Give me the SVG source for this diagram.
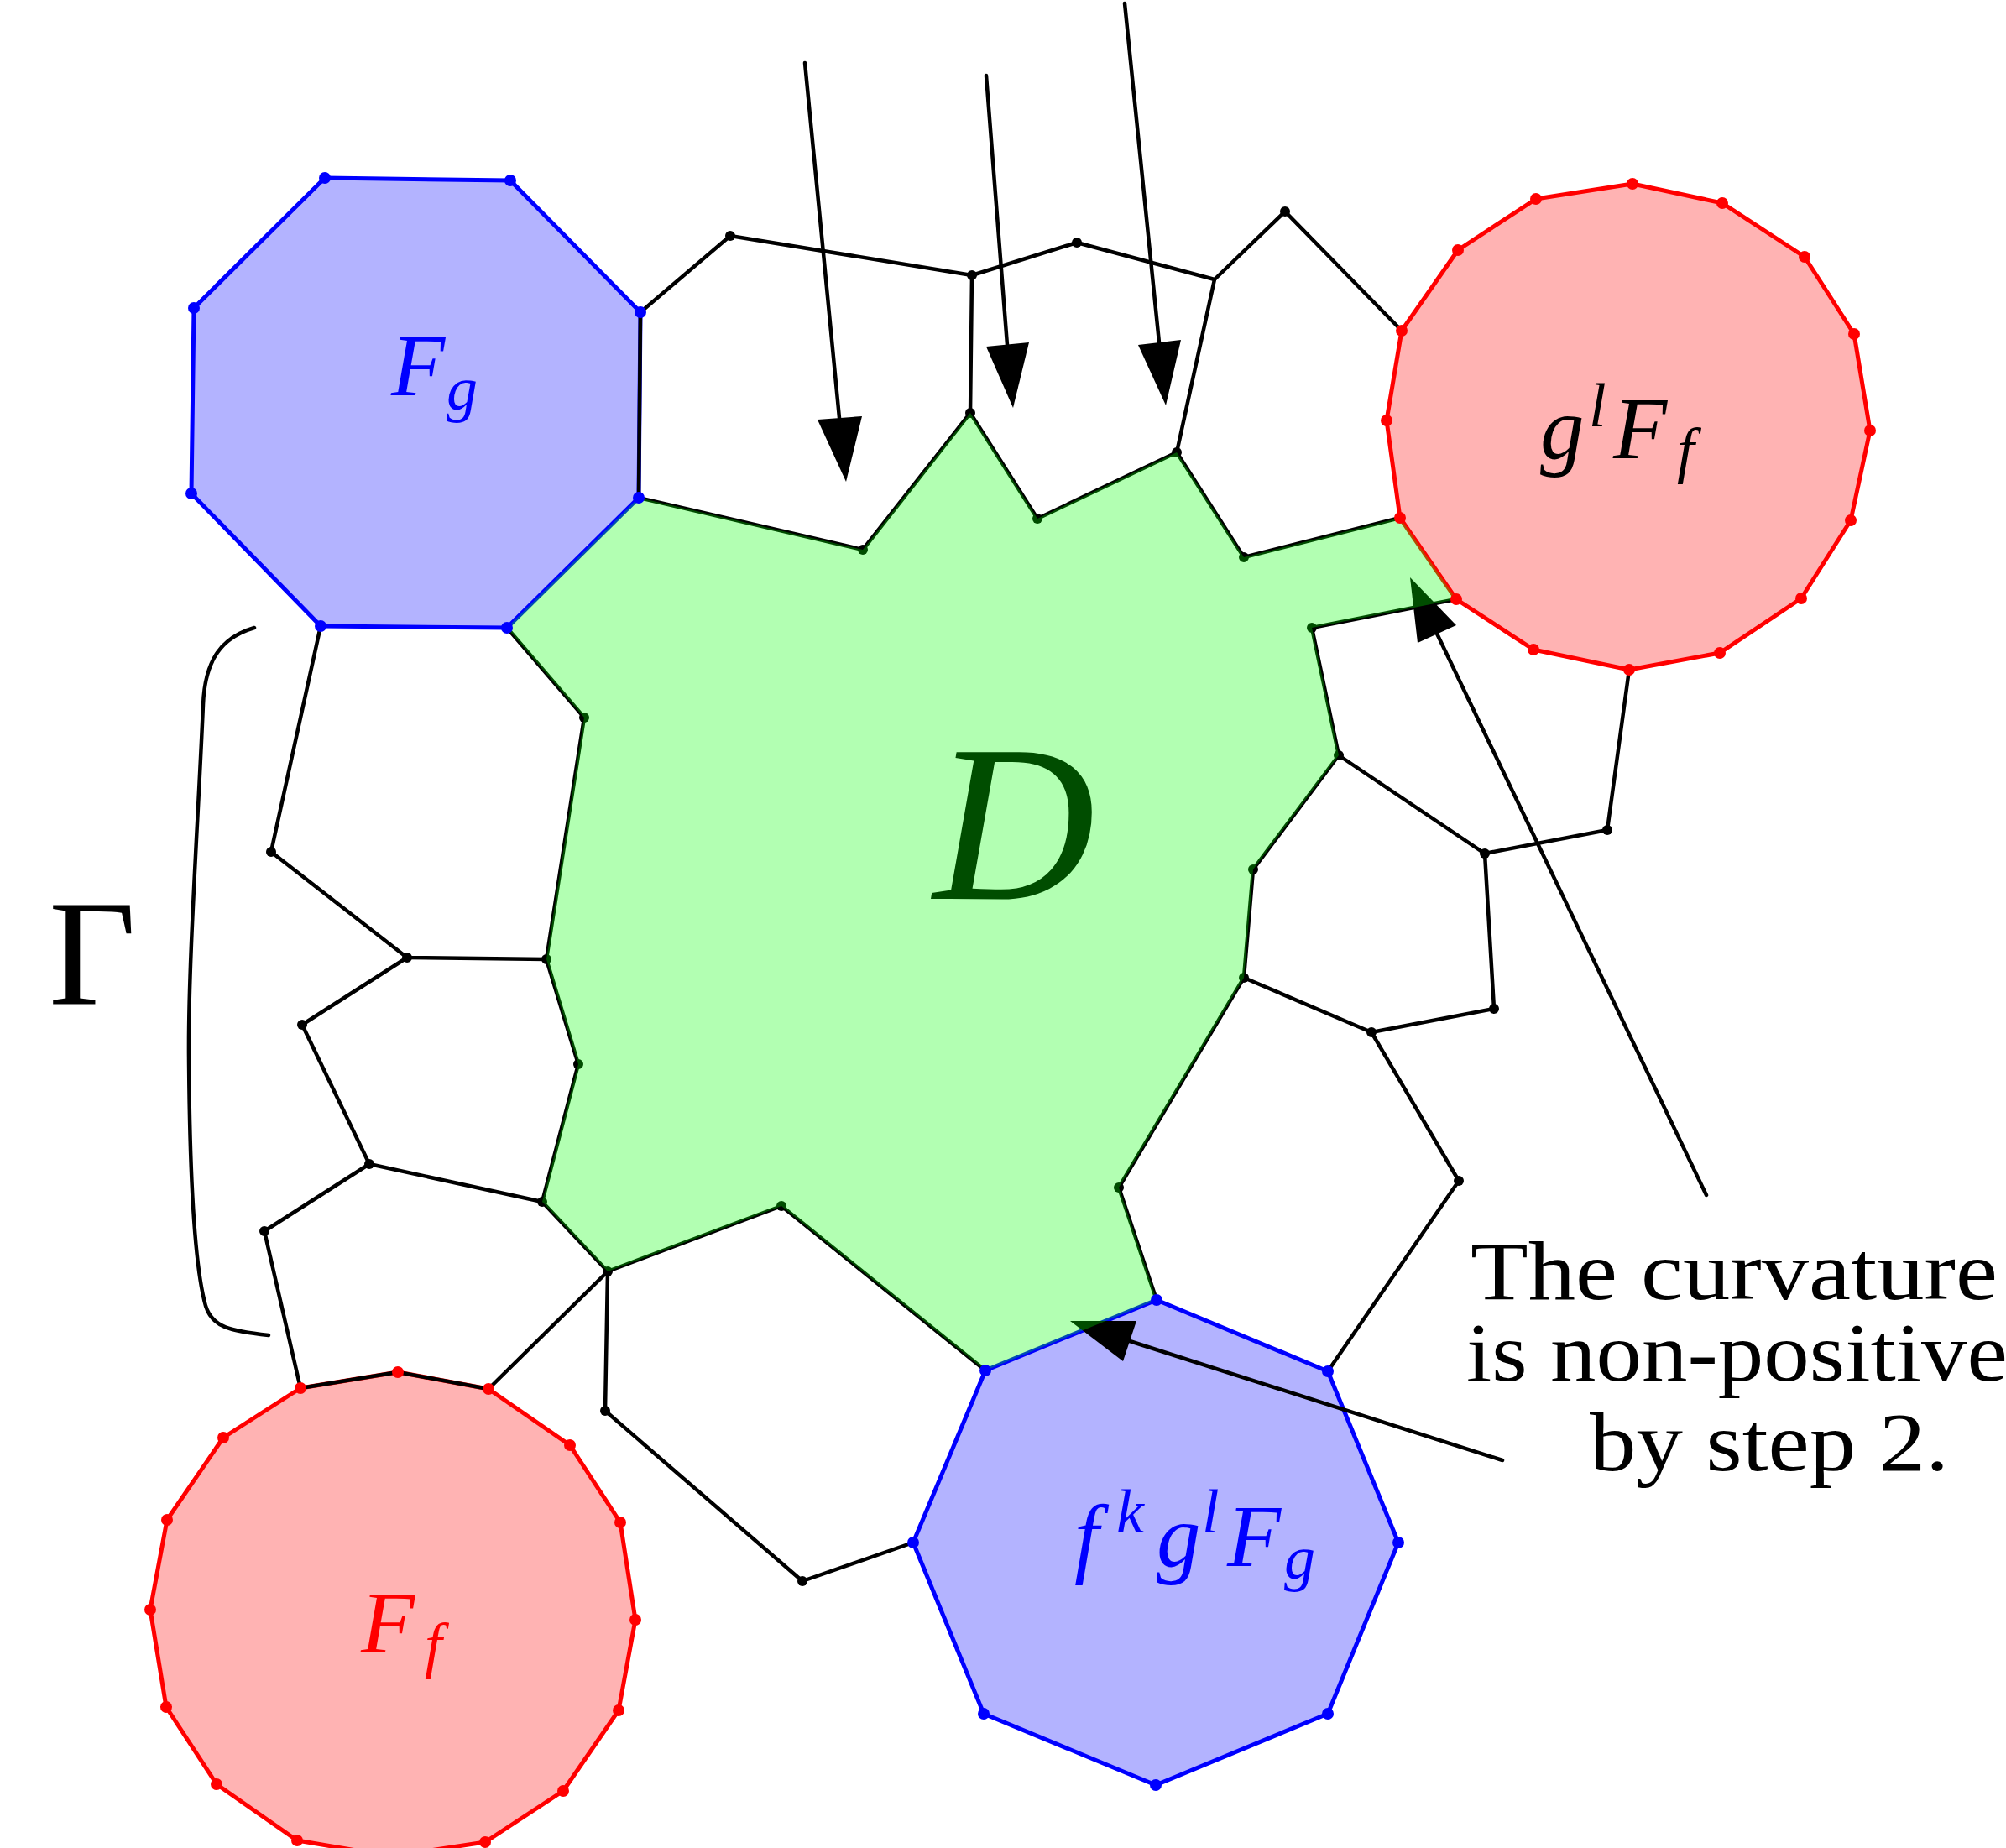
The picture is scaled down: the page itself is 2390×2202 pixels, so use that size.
<svg xmlns="http://www.w3.org/2000/svg" width="2390" height="2202" viewBox="0 0 2390 2202">
<style>
.edge{fill:none;stroke:#000;stroke-width:4.5;stroke-linejoin:round;stroke-linecap:round}
.red{fill:#ffb3b3;stroke:#ff0000;stroke-width:5;stroke-linejoin:round}
.blue{fill:#b3b3ff;stroke:#0000ff;stroke-width:5;stroke-linejoin:round}
.green{fill:#00ff00;fill-opacity:0.3;stroke:none}
.dk{fill:#000}
.rd{fill:#ff0000}
.bd{fill:#0000ff}
.head{fill:#000;stroke:none}
.math{font-family:"Liberation Serif","DejaVu Serif",serif;font-style:italic}
.rm{font-family:"Liberation Serif","DejaVu Serif",serif}
</style>
<defs>
<circle id="dot" r="6"/>
<circle id="cdot" r="7"/>
</defs>

<g id="Fg">
<polygon class="blue" points="387,212 608,215 763,372 761,593 604,748 382,746 228,588 231,367"/>
</g>
<g id="fkglFg">
<polygon class="blue" points="1378,1549 1582,1634 1666,1838 1582,2042 1377,2127 1172,2042 1088,1838 1174,1633"/>
</g>
<g id="glFf">
<polygon class="red" points="1945,219 2052,242 2150,306 2209,398 2228,513 2205,620 2146,713 2049,778 1941,798 1827,774 1735,714 1668,617 1652,501 1670,394 1737,298 1830,237"/>
</g>
<g id="Ff">
<polygon class="red" points="474,1635 582,1655 679,1722 739,1814 757,1930 737,2038 671,2134 578,2195 466,2212 354,2193 258,2126 198,2034 179,1918 199,1811 266,1713 358,1654"/>
</g>

<g id="connectors">
<polyline class="edge" points="763,372 870,281 1158,328 1283,289 1447,333 1531,252 1670,394"/>
<line class="edge" x1="1158" y1="328" x2="1156" y2="492"/>
<line class="edge" x1="1447" y1="333" x2="1402" y2="539"/>
<polyline class="edge" points="1595,900 1769,1017 1915,989 1941,798"/>
<polyline class="edge" points="1769,1017 1780,1202 1634,1230 1482,1165"/>
<polyline class="edge" points="1634,1230 1738,1407 1582,1634"/>
<polyline class="edge" points="382,746 323,1015 485,1141 651,1143"/>
<polyline class="edge" points="485,1141 360,1221 440,1387 646,1432"/>
<polyline class="edge" points="440,1387 315,1467 358,1654 474,1635 582,1655 724,1515"/>
<polyline class="edge" points="724,1515 721,1681 956,1884 1088,1838"/>
<polyline class="edge" points="763,372 761,593 1028,655 1156,492 1236,618 1402,539 1482,664 1668,617"/>
<polyline class="edge" points="1735,714 1563,748 1595,900 1493,1036 1482,1165 1333,1415 1378,1549"/>
<polyline class="edge" points="1174,1633 931,1437 724,1515 646,1432 689,1268 651,1143 696,855 604,748"/>
<path class="edge" d="M303,748 C265,759 244,785 242,840 C236,980 224,1150 225,1260 C226,1400 232,1510 245,1556 C253,1582 275,1586 320,1591"/>
<g class="dk">
<use href="#dot" x="870" y="281"/><use href="#dot" x="1158" y="328"/><use href="#dot" x="1283" y="289"/><use href="#dot" x="1531" y="252"/>
<use href="#dot" x="1769" y="1017"/><use href="#dot" x="1915" y="989"/><use href="#dot" x="1780" y="1202"/><use href="#dot" x="1634" y="1230"/><use href="#dot" x="1738" y="1407"/>
<use href="#dot" x="323" y="1015"/><use href="#dot" x="485" y="1141"/><use href="#dot" x="360" y="1221"/><use href="#dot" x="440" y="1387"/><use href="#dot" x="315" y="1467"/>
<use href="#dot" x="721" y="1681"/><use href="#dot" x="956" y="1884"/>
<use href="#dot" x="1028" y="655"/><use href="#dot" x="1156" y="492"/><use href="#dot" x="1236" y="618"/><use href="#dot" x="1402" y="539"/><use href="#dot" x="1482" y="664"/>
<use href="#dot" x="1563" y="748"/><use href="#dot" x="1595" y="900"/><use href="#dot" x="1493" y="1036"/><use href="#dot" x="1482" y="1165"/><use href="#dot" x="1333" y="1415"/>
<use href="#dot" x="931" y="1437"/><use href="#dot" x="724" y="1515"/><use href="#dot" x="646" y="1432"/><use href="#dot" x="689" y="1268"/><use href="#dot" x="651" y="1143"/><use href="#dot" x="696" y="855"/>
</g>
<line class="edge" x1="959" y1="75" x2="1000" y2="498"/>
<polygon class="head" points="1008,574 974,500 1027,496"/>
<line class="edge" x1="1175" y1="90" x2="1200" y2="411"/>
<polygon class="head" points="1207,486 1175,413 1226,408"/>
<line class="edge" x1="1340" y1="4" x2="1381" y2="408"/>
<polygon class="head" points="1389,483 1356,411 1407,405"/>
<line class="edge" x1="2033" y1="1424" x2="1712" y2="755"/>
<polygon class="head" points="1680,688 1689,766 1735,745"/>
<line class="edge" x1="1790" y1="1740" x2="1346" y2="1598"/>
<polygon class="head" points="1275,1574 1354,1574 1338,1622"/>
</g>

<g id="D">
<polygon class="green" points="761,593 1028,655 1156,492 1236,618 1402,539 1482,664 1668,617 1735,714 1563,748 1595,900 1493,1036 1482,1165 1333,1415 1378,1549 1174,1633 931,1437 724,1515 646,1432 689,1268 651,1143 696,855 604,748"/>
<text class="math" x="1112" y="1071" font-size="267" fill="#004d00">D</text>
</g>

<g id="vertex-dots">
<g class="bd">
<use href="#cdot" x="387" y="212"/><use href="#cdot" x="608" y="215"/><use href="#cdot" x="763" y="372"/><use href="#cdot" x="761" y="593"/><use href="#cdot" x="604" y="748"/><use href="#cdot" x="382" y="746"/><use href="#cdot" x="228" y="588"/><use href="#cdot" x="231" y="367"/>
<use href="#cdot" x="1378" y="1549"/><use href="#cdot" x="1582" y="1634"/><use href="#cdot" x="1666" y="1838"/><use href="#cdot" x="1582" y="2042"/><use href="#cdot" x="1377" y="2127"/><use href="#cdot" x="1172" y="2042"/><use href="#cdot" x="1088" y="1838"/><use href="#cdot" x="1174" y="1633"/>
</g>
<g class="rd">
<use href="#cdot" x="1945" y="219"/><use href="#cdot" x="2052" y="242"/><use href="#cdot" x="2150" y="306"/><use href="#cdot" x="2209" y="398"/><use href="#cdot" x="2228" y="513"/><use href="#cdot" x="2205" y="620"/><use href="#cdot" x="2146" y="713"/><use href="#cdot" x="2049" y="778"/><use href="#cdot" x="1941" y="798"/><use href="#cdot" x="1827" y="774"/><use href="#cdot" x="1735" y="714"/><use href="#cdot" x="1668" y="617"/><use href="#cdot" x="1652" y="501"/><use href="#cdot" x="1670" y="394"/><use href="#cdot" x="1737" y="298"/><use href="#cdot" x="1830" y="237"/>
<use href="#cdot" x="474" y="1635"/><use href="#cdot" x="582" y="1655"/><use href="#cdot" x="679" y="1722"/><use href="#cdot" x="739" y="1814"/><use href="#cdot" x="757" y="1930"/><use href="#cdot" x="737" y="2038"/><use href="#cdot" x="671" y="2134"/><use href="#cdot" x="578" y="2195"/><use href="#cdot" x="354" y="2193"/><use href="#cdot" x="258" y="2126"/><use href="#cdot" x="198" y="2034"/><use href="#cdot" x="179" y="1918"/><use href="#cdot" x="199" y="1811"/><use href="#cdot" x="266" y="1713"/><use href="#cdot" x="358" y="1654"/>
</g>
</g>

<g id="labels">
<text class="math" fill="#0000ff" font-size="105" x="466" y="471">F</text>
<text class="math" fill="#0000ff" font-size="74" x="532" y="488">g</text>
<text class="math" fill="#000" font-size="105" x="1835" y="546">g</text>
<text class="math" fill="#000" font-size="74" x="1893" y="508">l</text>
<text class="math" fill="#000" font-size="105" x="1922" y="546">F</text>
<text class="math" fill="#000" font-size="74" x="1998" y="561">f</text>
<text class="math" fill="#ff0000" font-size="105" x="430" y="1969">F</text>
<text class="math" fill="#ff0000" font-size="74" x="506" y="1985">f</text>
<text class="math" fill="#0000ff" font-size="105" x="1280" y="1866">f</text>
<text class="math" fill="#0000ff" font-size="74" x="1330" y="1826">k</text>
<text class="math" fill="#0000ff" font-size="105" x="1378" y="1866">g</text>
<text class="math" fill="#0000ff" font-size="74" x="1432" y="1826">l</text>
<text class="math" fill="#0000ff" font-size="105" x="1462" y="1866">F</text>
<text class="math" fill="#0000ff" font-size="74" x="1530" y="1881">g</text>
<text class="rm" fill="#000" font-size="180" x="58" y="1197">Γ</text>
<text class="rm" fill="#000" font-size="100"><tspan x="1752" y="1548" textLength="628" lengthAdjust="spacingAndGlyphs">The curvature</tspan><tspan x="1747" y="1645" textLength="645" lengthAdjust="spacingAndGlyphs">is non-positive</tspan><tspan x="1894" y="1752" textLength="428" lengthAdjust="spacingAndGlyphs">by step 2.</tspan></text>
</g>
</svg>
